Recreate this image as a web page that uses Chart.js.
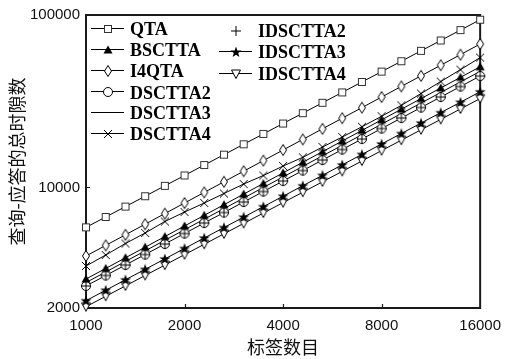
<!DOCTYPE html>
<html><head><meta charset="utf-8">
<script src="https://cdn.jsdelivr.net/npm/chart.js@4.4.0/dist/chart.umd.min.js"></script>
<style>html,body{margin:0;padding:0;background:#fff}</style>
</head><body>
<canvas id="c" width="510" height="359" style="width:510px;height:359px;display:block"></canvas>
<script>
const tagCounts = [1000,1149,1320,1516,1741,2000,2297,2639,3031,3482,4000,4595,5278,6063,6964,8000,9190,10556,12126,13929,16000];
const xTicks = [1000,2000,4000,8000,16000];
const yTicks = [2000,10000,100000];

const qta      = [5870,6743,7746,8897,10220,11740,13486,15491,17794,20440,23480,26971,30982,35589,40881,46960,53943,61964,71178,81762,93920];
const bsctta   = [2945,3393,3910,4505,5191,5981,6892,7941,9150,10542,12147,13996,16127,18582,21411,24670,28425,32752,37738,43483,50102];
const i4qta    = [4005,4614,5315,6123,7053,8125,9360,10783,12422,14310,16485,18991,21877,25202,29033,33446,38530,44387,51134,58906,67860];
const dsctta2  = [2683,3087,3551,4085,4700,5407,6221,7157,8234,9473,10898,12538,14425,16595,19092,21965,25270,29073,33447,38480,44270];
const dsctta3  = [2810,3235,3725,4289,4938,5686,6547,7538,8679,9993,11505,13247,15252,17561,20220,23281,26805,30863,35534,40914,47107];
const dsctta4  = [3504,4058,4730,5443,6345,7203,8123,9222,10469,11727,13314,14951,17154,19603,22490,25874,29930,35036,41116,48200,56650];
const idsctta2 = [2683,3087,3551,4085,4700,5407,6221,7157,8234,9473,10898,12538,14425,16595,19092,21965,25270,29073,33447,38480,44270];
const idsctta3 = [2205,2535,2915,3351,3852,4429,5092,5854,6730,7737,8895,10227,11758,13518,15541,17867,20541,23616,27151,31214,35887];
const idsctta4 = [2035,2338,2687,3087,3548,4077,4684,5382,6185,7107,8166,9383,10782,12389,14236,16358,18797,21599,24818,28518,32769];

function mk(draw){const c=document.createElement('canvas');c.width=14;c.height=14;const g=c.getContext('2d');g.lineWidth=1;g.strokeStyle='#000';g.fillStyle='#fff';draw(g);return c;}
const mSquare = mk(g=>{g.fillRect(3,3,8,8);g.strokeStyle='#333';g.strokeRect(3.5,3.5,7,7);});
const mTriUp = mk(g=>{g.fillStyle='#000';g.beginPath();g.moveTo(7,2.5);g.lineTo(11.5,10.5);g.lineTo(2.5,10.5);g.closePath();g.fill();});
const mDiamond = mk(g=>{g.beginPath();g.moveTo(7,1.5);g.lineTo(10.5,7);g.lineTo(7,12.5);g.lineTo(3.5,7);g.closePath();g.fill();g.stroke();});
const mCircle = mk(g=>{g.beginPath();g.arc(7,7,4.5,0,Math.PI*2);g.fill();g.stroke();});
const mPlus = mk(g=>{g.beginPath();g.moveTo(7,2);g.lineTo(7,12);g.moveTo(2,7);g.lineTo(12,7);g.stroke();});
const mCross = mk(g=>{g.beginPath();g.moveTo(3,3);g.lineTo(11,11);g.moveTo(11,3);g.lineTo(3,11);g.stroke();});
const mStar = mk(g=>{g.fillStyle='#000';g.beginPath();for(let i=0;i<10;i++){const r=i%2?2.3:5.8;const a=-Math.PI/2+i*Math.PI/5;const px=7+r*Math.cos(a),py=7.4+r*Math.sin(a);i?g.lineTo(px,py):g.moveTo(px,py);}g.closePath();g.fill();});
const mTriDown = mk(g=>{g.beginPath();g.moveTo(2.5,3);g.lineTo(11.5,3);g.lineTo(7,11.5);g.closePath();g.fill();g.stroke();});

function ds(label, vals, marker, showLine, order){
  return {label, data: tagCounts.map((x,i)=>({x, y: vals[i]})), borderColor:'#000', borderWidth:1,
    pointStyle: marker || false, pointRadius: marker ? 4 : 0, showLine: showLine, clip: false, order: order||0, fill:false, tension:0};
}
const datasets = [
  ds('QTA', qta, mSquare, true),
  ds('BSCTTA', bsctta, mTriUp, true),
  ds('I4QTA', i4qta, mDiamond, true),
  ds('DSCTTA2', dsctta2, mCircle, true),
  ds('DSCTTA3', dsctta3, null, true),
  ds('DSCTTA4', dsctta4, mCross, true),
  ds('IDSCTTA2', idsctta2, mPlus, false, -1),
  ds('IDSCTTA3', idsctta3, mStar, true),
  ds('IDSCTTA4', idsctta4, mTriDown, true)
];

const legendItems = [
  {x:91, y:28.5, ty:35, text:'QTA', img:mSquare, line:true},
  {x:91, y:49.5, ty:56, text:'BSCTTA', img:mTriUp, line:true},
  {x:91, y:70.5, ty:77, text:'I4QTA', img:mDiamond, line:true},
  {x:91, y:91.5, ty:98.5, text:'DSCTTA2', img:mCircle, line:true},
  {x:91, y:112.5, ty:119, text:'DSCTTA3', img:null, line:true},
  {x:91, y:133.5, ty:140, text:'DSCTTA4', img:mCross, line:true},
  {x:219, y:30.5, ty:37, text:'IDSCTTA2', img:mPlus, line:false},
  {x:219, y:51.5, ty:58, text:'IDSCTTA3', img:mStar, line:true},
  {x:219, y:73.5, ty:80, text:'IDSCTTA4', img:mTriDown, line:true}
];

const deco = {
  id:'deco',
  beforeDatasetsDraw(chart){
    const ctx=chart.ctx, a=chart.chartArea, xs=chart.scales.x, ys=chart.scales.y;
    ctx.save();
    ctx.strokeStyle='#1a1a1a'; ctx.lineWidth=2;
    ctx.strokeRect(a.left, a.top, a.right-a.left, a.bottom-a.top);
    ctx.lineWidth=1.2;
    ctx.beginPath();
    xTicks.slice(1,-1).forEach(v=>{const px=Math.round(xs.getPixelForValue(v))+0.5;ctx.moveTo(px,a.bottom);ctx.lineTo(px,a.bottom-4);});
    yTicks.slice(1,-1).forEach(v=>{const py=Math.round(ys.getPixelForValue(v))+0.5;ctx.moveTo(a.left,py);ctx.lineTo(a.left+4,py);});
    ctx.stroke();
    ctx.restore();
  },
  afterDraw(chart){
    const ctx=chart.ctx;
    ctx.save();
    ctx.font='bold 18px "Liberation Serif"';
    ctx.fillStyle='#000'; ctx.textBaseline='alphabetic'; ctx.textAlign='left';
    legendItems.forEach(it=>{
      if(it.line){ctx.strokeStyle='#000';ctx.lineWidth=1;ctx.beginPath();ctx.moveTo(it.x,it.y);ctx.lineTo(it.x+33,it.y);ctx.stroke();}
      if(it.img) ctx.drawImage(it.img, Math.round(it.x+16.5-7), Math.round(it.y-7));
      ctx.fillText(it.text, it.x+39, it.ty);
    });
    ctx.restore();
  }
};

new Chart(document.getElementById('c'), {
  type:'line',
  data:{datasets},
  options:{
    responsive:false, animation:false, events:[],
    layout:{padding:{top:15,right:21,bottom:0,left:0}},
    plugins:{legend:{display:false}, tooltip:{enabled:false}},
    scales:{
      x:{type:'logarithmic', min:1000, max:16000,
        afterBuildTicks:s=>{s.ticks=xTicks.map(v=>({value:v}));},
        afterFit:s=>{s.height=51;},
        grid:{display:false, drawTicks:false}, border:{display:false},
        ticks:{autoSkip:false, maxRotation:0, padding:9, color:'#111', font:{family:'"Liberation Sans"', size:15}, callback:v=>String(v)},
        title:{display:true, text:'标签数目', color:'#111', font:{family:'"Noto Sans CJK SC"', size:18}, padding:{top:0,bottom:1}}
      },
      y:{type:'logarithmic', min:2000, max:100000,
        afterBuildTicks:s=>{s.ticks=yTicks.map(v=>({value:v}));},
        afterFit:s=>{s.width=86;},
        grid:{display:false, drawTicks:false}, border:{display:false},
        ticks:{autoSkip:false, padding:6, color:'#111', font:{family:'"Liberation Sans"', size:15}, callback:v=>String(v)},
        title:{display:true, text:'查询-应答的总时隙数', color:'#111', font:{family:'"Noto Sans CJK SC"', size:18}, padding:{top:6,bottom:0}}
      }
    }
  },
  plugins:[deco]
});
</script>
</body></html>
